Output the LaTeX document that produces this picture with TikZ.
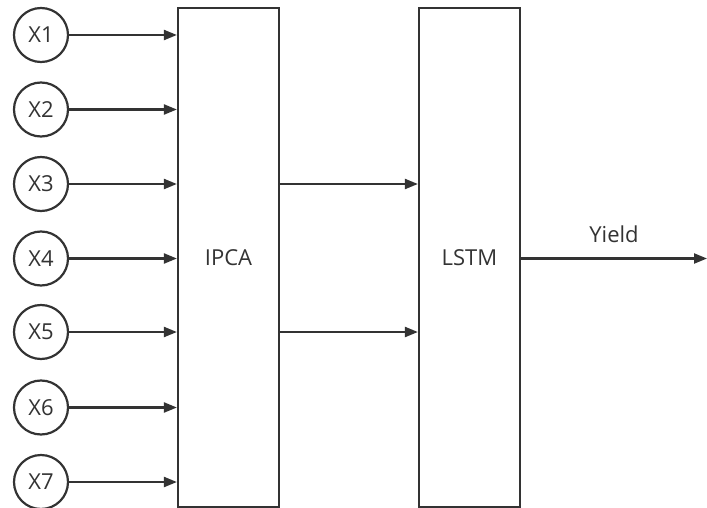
\documentclass[tikz,border=0pt]{standalone}
\usepackage{fontspec}
\setmainfont{Open Sans}
\usepackage{tikz}
\usetikzlibrary{arrows.meta}
\definecolor{inkgray}{RGB}{51, 51, 51}

\begin{document}
\begin{tikzpicture}[x=1pt, y=-1pt, font=\fontsize{22}{26}\selectfont, color=inkgray,
                    every path/.style={line width=2.2pt},
                    feat/.style={draw, circle, minimum size=54pt, inner sep=0pt},
                    block/.style={draw, rectangle, minimum width=101pt, minimum height=499pt, inner sep=0pt},
                    link/.style={-{Triangle[length=13pt, width=10pt]}}]
                        \useasboundingbox (0,0) rectangle (707,508);

                        % inputs
                        \foreach \i/\y in {1/35, 2/109.5, 3/184, 4/258.5, 5/332, 6/407.5, 7/482}
                            \node[feat] (x\i) at (41,\y) {X\i};

                        % blocks
                        \node[block] (ipca) at (228.5,257.5) {IPCA};
                        \node[block] (lstm) at (469.5,257.5) {LSTM};

                        \foreach \i in {1,...,7}
                            \draw[link] (x\i) -- (x\i -| ipca.west);

                        \draw[link] (ipca.east |- x3) -- (lstm.west |- x3);
                        \draw[link] (ipca.east |- x5) -- (lstm.west |- x5);

                        \coordinate (out) at (707,258.5);
                        \draw[link] (lstm.east |- out) -- (out) node[midway, above=11pt] {Yield};
                    \end{tikzpicture}
\end{document}
